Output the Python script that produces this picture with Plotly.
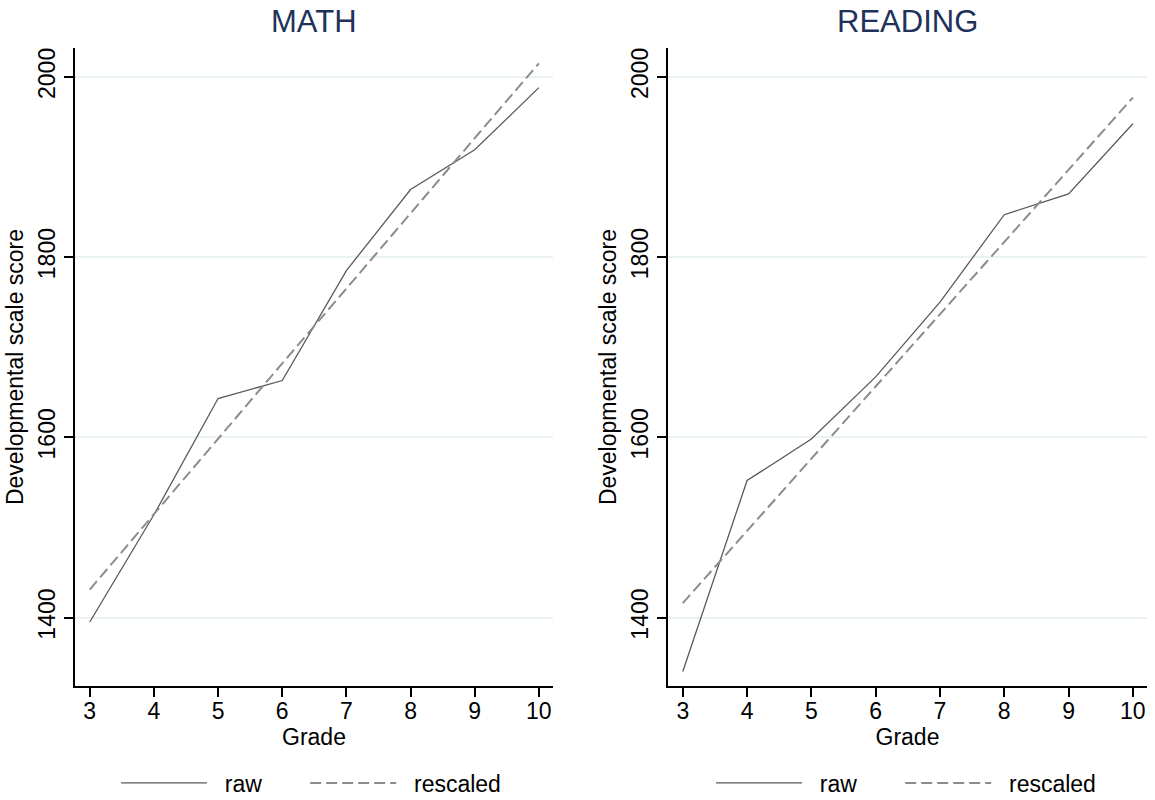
import plotly.graph_objects as go

# Grades on the horizontal axis
grades = [3, 4, 5, 6, 7, 8, 9, 10]

# Mean developmental scale scores by grade
math_raw = [1395, 1514, 1643, 1663, 1785, 1875, 1919, 1988]
math_rescaled = [1431, 1515, 1598, 1682, 1765, 1849, 1932, 2015]
reading_raw = [1340, 1552, 1598, 1667, 1750, 1847, 1870, 1948]
reading_rescaled = [1416, 1496, 1576, 1656, 1737, 1817, 1897, 1977]

panel_titles = ["MATH", "READING"]
series_names = ["raw", "rescaled"]
y_ticks = [1400, 1600, 1800, 2000]
x_ticks = grades

W, H = 1155, 800
FONT = "Liberation Sans, Arial, sans-serif"
FS = 23
RAW_COLOR = "#5a5a5a"
RESC_COLOR = "#8c8c8c"
GRID_COLOR = "#eaf2f3"
TITLE_COLOR = "#1f325a"

# plot-area boxes in pixels: (left, right)
boxes = [(75, 553), (668, 1147)]
top_px, bottom_px = 48, 686
# left edge of each legend, in pixels
legend_left = [116, 711]

# spacers: a little room before each label, and more after the first entry
PAD = "\u00a0\u00a0"
GAP = "\u00a0" * 6

fig = go.Figure()

panels = [(math_raw, math_rescaled), (reading_raw, reading_rescaled)]
for i, (raw, resc) in enumerate(panels):
    suffix = "" if i == 0 else str(i + 1)
    leg = "legend" if i == 0 else "legend2"
    fig.add_trace(go.Scatter(
        x=grades, y=raw, mode="lines", name=PAD + series_names[0] + GAP,
        line=dict(color=RAW_COLOR, width=1.3),
        xaxis="x" + suffix, yaxis="y" + suffix, legend=leg,
    ))
    fig.add_trace(go.Scatter(
        x=grades, y=resc, mode="lines", name=PAD + series_names[1],
        line=dict(color=RESC_COLOR, width=2, dash="11px,5px"),
        xaxis="x" + suffix, yaxis="y" + suffix, legend=leg,
    ))

ydom = [1 - bottom_px / H, 1 - top_px / H]
layout = dict(
    width=W, height=H,
    margin=dict(l=0, r=0, t=0, b=0, autoexpand=False),
    paper_bgcolor="white", plot_bgcolor="white",
    font=dict(family=FONT, size=FS, color="black"),
    showlegend=True,
)

annotations = []
for i, (l, r) in enumerate(boxes):
    suffix = "" if i == 0 else str(i + 1)
    xdom = [l / W, r / W]
    layout["xaxis" + suffix] = dict(
        domain=xdom, anchor="y" + suffix,
        range=[2.77, 10.22],
        tickmode="array", tickvals=x_ticks,
        ticks="outside", ticklen=9, tickwidth=1.5, tickcolor="black",
        ticklabelstandoff=-5,
        showline=True, linecolor="black", linewidth=1.5,
        showgrid=False, zeroline=False,
        tickfont=dict(size=FS),
        title=dict(text="Grade", font=dict(size=FS), standoff=0),
    )
    layout["yaxis" + suffix] = dict(
        domain=ydom, anchor="x" + suffix,
        range=[1324, 2032],
        tickmode="array", tickvals=y_ticks,
        ticks="outside", ticklen=9, tickwidth=1.5, tickcolor="black",
        tickangle=-90,
        showline=True, linecolor="black", linewidth=1.5,
        showgrid=True, gridcolor=GRID_COLOR, gridwidth=2,
        zeroline=False,
        tickfont=dict(size=FS),
        title=dict(text="Developmental scale score", font=dict(size=FS), standoff=4),
    )
    annotations.append(dict(
        text=panel_titles[i], x=(l + r) / 2 / W, y=1 - 22 / H,
        xref="paper", yref="paper", xanchor="center", yanchor="middle",
        showarrow=False, font=dict(size=31, color=TITLE_COLOR, family=FONT),
    ))
    legname = "legend" if i == 0 else "legend2"
    layout[legname] = dict(
        orientation="h",
        x=legend_left[i] / W, xanchor="left",
        y=1 - 783 / H, yanchor="middle",
        itemwidth=86,
        font=dict(size=FS),
        bgcolor="rgba(0,0,0,0)",
        tracegroupgap=0,
    )

layout["annotations"] = annotations
fig.update_layout(**layout)

fig.write_html("out.html")
